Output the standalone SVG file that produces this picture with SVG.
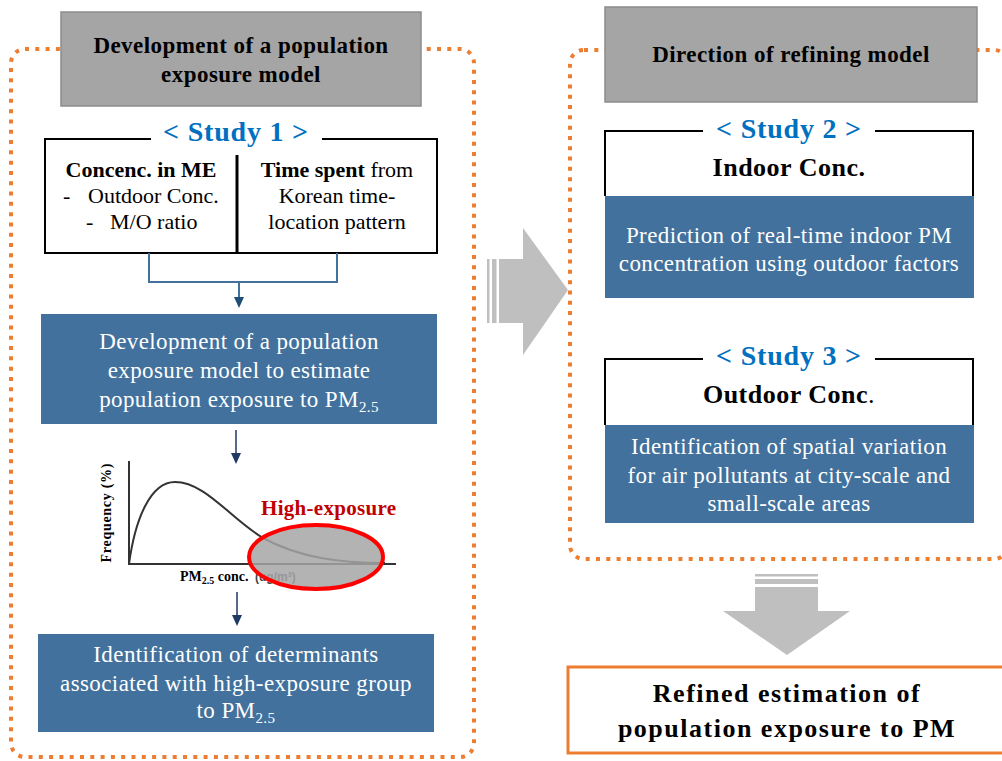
<svg xmlns="http://www.w3.org/2000/svg" width="1002" height="761" viewBox="0 0 1002 761">
<defs>
<style>
.frame{fill:none;stroke:#ED7D31;stroke-width:4;stroke-dasharray:4 6.3}
.hdr{fill:#A5A5A5;stroke:#8C8C8C;stroke-width:1.5}
.hdrT{font-family:"Liberation Serif",serif;font-weight:bold;font-size:23px;fill:#000;text-anchor:middle;letter-spacing:0.45px}
.study{font-family:"Liberation Serif",serif;font-weight:bold;font-size:28px;fill:#0070C0;text-anchor:middle;letter-spacing:0.8px}
.bx{fill:none;stroke:#000;stroke-width:2}
.blue{fill:#41719C}
.wT{font-family:"Liberation Serif",serif;font-size:23px;fill:#fff;text-anchor:middle;letter-spacing:0.4px}
.bT{font-family:"Liberation Serif",serif;font-size:22px;fill:#000}
.big{font-family:"Liberation Serif",serif;font-weight:bold;font-size:26px;fill:#000;text-anchor:middle}
.gArrow{fill:#BFBFBF}
</style>
<marker id="ahB" viewBox="0 0 11 10" markerWidth="11" markerHeight="10" refX="0" refY="5" orient="auto" markerUnits="userSpaceOnUse"><path d="M0,0 L11,5 L0,10 z" fill="#1F4E79"/></marker>
<marker id="ahN" viewBox="0 0 11 10" markerWidth="11" markerHeight="10" refX="0" refY="5" orient="auto" markerUnits="userSpaceOnUse"><path d="M0,0 L11,5 L0,10 z" fill="#1F3864"/></marker>
</defs>
<rect width="1002" height="761" fill="#fff"/>

<!-- frames -->
<g id="frame-left"><rect class="frame" x="11" y="49" width="463" height="708" rx="14"/></g>
<g id="frame-right"><rect class="frame" x="570" y="50" width="438" height="509" rx="14"/></g>

<!-- left header -->
<g id="header-left">
<rect class="hdr" x="61" y="12" width="360" height="94"/>
<text class="hdrT" x="241" y="53">Development of a population</text>
<text class="hdrT" x="241" y="82">exposure model</text>
</g>

<!-- study 1 -->
<g id="study1">
<path class="bx" d="M151,139 H45 V253 H437 V139 H322"/>
<line x1="237" y1="155" x2="237" y2="253" stroke="#000" stroke-width="3"/>
<text class="study" x="236" y="141">&lt; Study 1 &gt;</text>
<text class="bT" x="141" y="177" text-anchor="middle" font-weight="bold">Concenc. in ME</text>
<text class="bT" x="63" y="203">-</text>
<text class="bT" x="88" y="203">Outdoor Conc.</text>
<text class="bT" x="86" y="229">-</text>
<text class="bT" x="110" y="229">M/O ratio</text>
<text class="bT" x="337" y="177" text-anchor="middle"><tspan font-weight="bold">Time spent</tspan> from</text>
<text class="bT" x="337" y="203" text-anchor="middle">Korean time-</text>
<text class="bT" x="337" y="229" text-anchor="middle">location pattern</text>
</g>

<!-- model box -->
<g id="model-box">
<rect class="blue" x="41" y="314" width="396" height="110"/>
<text class="wT" x="239" y="349">Development of a population</text>
<text class="wT" x="239" y="378">exposure model to estimate</text>
<text class="wT" x="239" y="407">population exposure to PM<tspan font-size="15" dy="5">2.5</tspan></text>
</g>

<!-- chart -->
<g id="chart">
<text font-family="Liberation Serif, serif" font-weight="bold" font-size="14" text-anchor="middle" transform="translate(111,513) rotate(-90)" textLength="99" lengthAdjust="spacing">Frequency (%)</text>
<path d="M129,564 C135,520 150,482 175,482 C205,482 230,518 263,538 C300,558 340,563 385,563" fill="none" stroke="#333" stroke-width="2"/>
<line x1="129" y1="461" x2="129" y2="565" stroke="#333" stroke-width="2"/>
<line x1="128" y1="564" x2="396" y2="564" stroke="#333" stroke-width="2"/>
<text font-family="Liberation Serif, serif" font-weight="bold" font-size="14" x="180" y="581">PM<tspan font-size="10" dy="3">2.5</tspan><tspan dy="-3"> conc.</tspan></text>
<text font-family="Liberation Sans, sans-serif" font-weight="bold" font-size="12" x="255" y="581" fill="#444">(ug/m³)</text>
<ellipse cx="316" cy="557" rx="67" ry="32" fill="#A6A6A6" fill-opacity="0.85" stroke="#FF0000" stroke-width="4"/>
<text font-family="Liberation Serif, serif" font-weight="bold" font-size="21" x="261" y="515" fill="#C00000" letter-spacing="0.3">High-exposure</text>
</g>

<!-- determinants box -->
<g id="determinants-box">
<rect class="blue" x="38" y="634" width="396" height="98"/>
<text class="wT" x="236" y="662">Identification of determinants</text>
<text class="wT" x="236" y="691">associated with high-exposure group</text>
<text class="wT" x="236" y="718">to PM<tspan font-size="15" dy="5">2.5</tspan></text>
</g>

<!-- right header -->
<g id="header-right">
<rect class="hdr" x="605" y="7" width="372" height="95"/>
<text class="hdrT" x="791" y="62">Direction of refining model</text>
</g>

<!-- study 2 -->
<g id="study2">
<rect class="blue" x="605" y="196" width="369" height="102"/>
<path class="bx" d="M703,131 H605 V196 M973,196 V131 H875"/>
<text class="study" x="789" y="138">&lt; Study 2 &gt;</text>
<text class="big" x="789" y="176" letter-spacing="0.5">Indoor Conc.</text>
<text class="wT" x="789" y="243">Prediction of real-time indoor PM</text>
<text class="wT" x="789" y="271">concentration using  outdoor factors</text>
</g>

<!-- study 3 -->
<g id="study3">
<rect class="blue" x="605" y="425" width="369" height="98"/>
<path class="bx" d="M703,359 H605 V425 M973,425 V359 H875"/>
<text class="study" x="789" y="365">&lt; Study 3 &gt;</text>
<text class="big" x="789" y="403" letter-spacing="0.5">Outdoor Conc<tspan font-weight="normal">.</tspan></text>
<text class="wT" x="789" y="454">Identification of spatial variation</text>
<text class="wT" x="789" y="483">for air pollutants at city-scale and</text>
<text class="wT" x="789" y="511">small-scale areas</text>
</g>

<!-- final -->
<g id="final">
<rect x="568" y="667" width="440" height="86" fill="#fff" stroke="#ED7D31" stroke-width="3"/>
<text class="big" x="787" y="702" letter-spacing="1.5">Refined estimation of</text>
<text class="big" x="787" y="737" letter-spacing="1.5">population exposure to PM</text>
</g>

<!-- connectors -->
<g id="connectors">
<path d="M149,253 V282 H337 V253" fill="none" stroke="#41719C" stroke-width="2"/>
<path d="M239,282 V297" fill="none" stroke="#41719C" stroke-width="2" marker-end="url(#ahB)"/>
<path d="M236,430 V453" fill="none" stroke="#1F3864" stroke-width="1.5" marker-end="url(#ahN)"/>
<path d="M237,592 V615" fill="none" stroke="#1F3864" stroke-width="1.5" marker-end="url(#ahN)"/>
<g class="gArrow">
<rect x="487" y="259" width="2.5" height="64"/>
<rect x="492" y="259" width="4.5" height="64"/>
<polygon points="499,259 523,259 523,228 568,290 523,355 523,323 499,323"/>
<rect x="755" y="574" width="63" height="2.5"/>
<rect x="755" y="579" width="63" height="5"/>
<polygon points="755,587 818,587 818,611 850,611 787,655 723,611 755,611"/>
</g>
</g>
</svg>
